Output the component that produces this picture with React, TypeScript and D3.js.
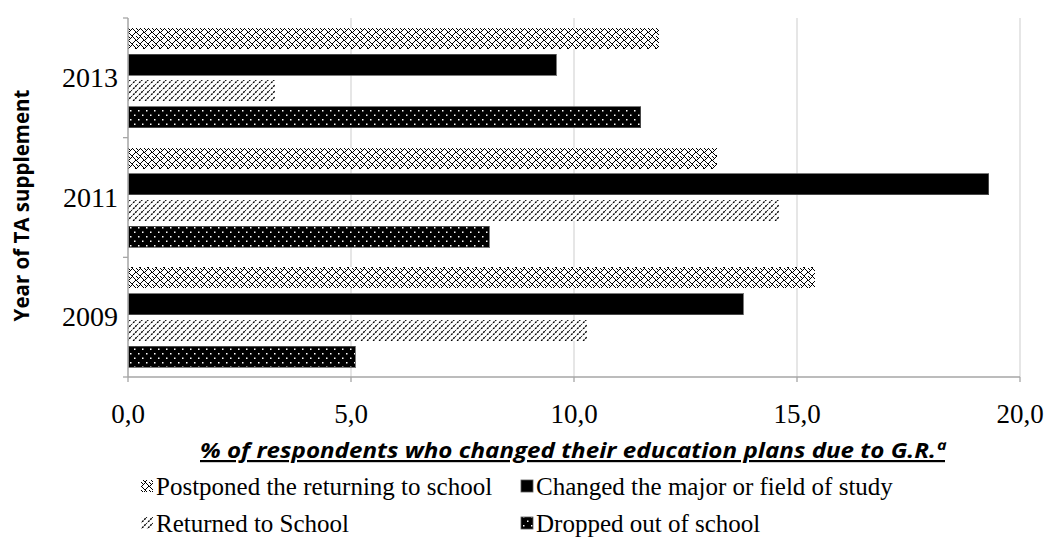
import React, { useEffect, useRef } from 'react';
import * as d3 from 'd3';

const years = ['2013', '2011', '2009'];
const seriesNames = [
  'Postponed the returning to school',
  'Changed the major or field of study',
  'Returned to School',
  'Dropped out of school',
];
const postponed = [11.9, 13.2, 15.4];
const changedMajor = [9.6, 19.3, 13.8];
const returnedSchool = [3.3, 14.6, 10.3];
const droppedOut = [11.5, 8.1, 5.1];
const xTicks = [0, 5, 10, 15, 20];

const App: React.FC = () => {
  const svgRef = useRef<SVGSVGElement>(null);

  useEffect(() => {
    if (!svgRef.current) return;
    const svg = d3.select(svgRef.current);
    svg.selectAll('*').remove();

    const width = 1051;
    const height = 549;
    const margin = { top: 18, right: 31, bottom: 172, left: 128 };
    const serif = 'Liberation Serif, Times New Roman, serif';
    const sans = 'Open Sans, Liberation Sans, sans-serif';

    const seriesValues = [postponed, changedMajor, returnedSchool, droppedOut];
    const fills = ['url(#pZig)', '#000', 'url(#pDiag)', 'url(#pDots)'];

    // patterns
    const defs = svg.append('defs');
    const zig = defs.append('pattern').attr('id', 'pZig')
      .attr('patternUnits', 'userSpaceOnUse').attr('width', 8).attr('height', 8);
    zig.append('rect').attr('width', 8).attr('height', 8).attr('fill', '#fff');
    const zigPix = [[0, 0], [7, 0], [1, 1], [6, 1], [2, 2], [5, 2], [3, 3], [4, 3],
      [0, 4], [4, 4], [1, 5], [3, 5], [5, 5], [2, 6], [6, 6], [1, 7], [7, 7]];
    zig.selectAll('rect.px').data(zigPix).join('rect').attr('class', 'px')
      .attr('x', d => d[0]).attr('y', d => d[1]).attr('width', 1).attr('height', 1)
      .attr('fill', '#000');

    const diag = defs.append('pattern').attr('id', 'pDiag')
      .attr('patternUnits', 'userSpaceOnUse').attr('width', 6).attr('height', 6);
    diag.append('rect').attr('width', 6).attr('height', 6).attr('fill', '#fff');
    diag.append('path').attr('d', 'M-1,7 L7,-1 M-4,4 L4,-4 M2,10 L10,2')
      .attr('stroke', '#000').attr('stroke-width', 1.4).attr('stroke-dasharray', '2,1');

    const dots = defs.append('pattern').attr('id', 'pDots')
      .attr('patternUnits', 'userSpaceOnUse').attr('width', 8).attr('height', 9);
    dots.append('rect').attr('width', 8).attr('height', 9).attr('fill', '#000');
    dots.append('rect').attr('x', 2).attr('y', 2).attr('width', 1.5).attr('height', 1.5).attr('fill', '#fff');
    dots.append('rect').attr('x', 6).attr('y', 6.5).attr('width', 1.5).attr('height', 1.5).attr('fill', '#fff');

    const x = d3.scaleLinear().domain([0, 20]).range([margin.left, width - margin.right]);
    const y = d3.scaleBand().domain(years).range([margin.top, height - margin.bottom]);
    const yInner = d3.scaleBand<number>().domain([0, 1, 2, 3])
      .range([0, y.bandwidth()]).paddingInner(0.2).paddingOuter(0.38);

    // gridlines
    svg.append('g').selectAll('line').data(xTicks.slice(1)).join('line')
      .attr('x1', d => x(d)).attr('x2', d => x(d))
      .attr('y1', margin.top).attr('y2', height - margin.bottom)
      .attr('stroke', '#d9d9d9').attr('stroke-width', 1.3);

    // bars
    seriesValues.forEach((vals, si) => {
      svg.append('g').selectAll('rect').data(vals).join('rect')
        .attr('x', x(0))
        .attr('y', (d, i) => y(years[i])! + yInner(si)!)
        .attr('width', d => x(d) - x(0))
        .attr('height', yInner.bandwidth())
        .attr('fill', fills[si])
        .attr('stroke', si === 1 || si === 3 ? '#595959' : 'none')
        .attr('stroke-width', 0.8)
        .attr('shape-rendering', 'crispEdges');
    });

    // axes
    const axisColor = '#a6a6a6';
    svg.append('line')
      .attr('x1', x(0)).attr('x2', x(0))
      .attr('y1', margin.top).attr('y2', height - margin.bottom)
      .attr('stroke', axisColor).attr('stroke-width', 1.5);
    svg.append('line')
      .attr('x1', x(0)).attr('x2', x(20))
      .attr('y1', height - margin.bottom).attr('y2', height - margin.bottom)
      .attr('stroke', axisColor).attr('stroke-width', 1.5);
    svg.append('g').selectAll('line').data(xTicks).join('line')
      .attr('x1', d => x(d)).attr('x2', d => x(d))
      .attr('y1', height - margin.bottom).attr('y2', height - margin.bottom + 5)
      .attr('stroke', axisColor).attr('stroke-width', 1.3);
    svg.append('g').selectAll('line').data([...years.map(yr => y(yr)!), height - margin.bottom]).join('line')
      .attr('x1', x(0) - 5).attr('x2', x(0))
      .attr('y1', d => d).attr('y2', d => d)
      .attr('stroke', axisColor).attr('stroke-width', 1.3);

    // tick labels
    svg.append('g').selectAll('text').data(xTicks).join('text')
      .attr('x', d => x(d)).attr('y', height - margin.bottom + 46)
      .attr('text-anchor', 'middle')
      .attr('font-family', serif).attr('font-size', 27).attr('fill', '#000')
      .text(d => d.toFixed(1).replace('.', ','));

    svg.append('g').selectAll('text').data(years).join('text')
      .attr('x', x(0) - 10).attr('y', d => y(d)! + y.bandwidth() / 2 + 9)
      .attr('text-anchor', 'end')
      .attr('font-family', serif).attr('font-size', 28).attr('fill', '#000')
      .text(d => d);

    // axis titles
    svg.append('text')
      .attr('transform', `translate(29,${(margin.top + height - margin.bottom) / 2 + 8}) rotate(-90)`)
      .attr('text-anchor', 'middle')
      .attr('font-family', sans).attr('font-weight', 'bold').attr('font-size', 20.5)
      .attr('fill', '#000')
      .text('Year of TA supplement');

    svg.append('text')
      .attr('x', 200).attr('y', 458)
      .attr('font-family', sans).attr('font-weight', 'bold').attr('font-style', 'italic')
      .attr('font-size', 22).attr('text-decoration', 'underline')
      .attr('textLength', 745).attr('lengthAdjust', 'spacingAndGlyphs')
      .attr('fill', '#000')
      .text('% of respondents who changed their education plans due to G.R.ª');

    // legend
    const legendPos = [[141, 486], [521, 486], [141, 523], [521, 523]];
    const leg = svg.append('g').selectAll('g').data(seriesNames).join('g')
      .attr('transform', (d, i) => `translate(${legendPos[i][0]},${legendPos[i][1]})`);
    leg.append('rect')
      .attr('x', 0).attr('y', -6).attr('width', 12).attr('height', 12)
      .attr('fill', (d, i) => fills[i])
      .attr('stroke', (d, i) => (i === 1 || i === 3 ? '#595959' : 'none'))
      .attr('stroke-width', 0.8);
    leg.append('text')
      .attr('x', 15).attr('y', 9)
      .attr('font-family', serif).attr('font-size', 25).attr('fill', '#000')
      .text(d => d);
  }, []);

  return (
    <svg ref={svgRef} width={1051} height={549}
      style={{ position: 'absolute', left: 0, top: 0, background: '#fff' }} />
  );
};

export default App;
